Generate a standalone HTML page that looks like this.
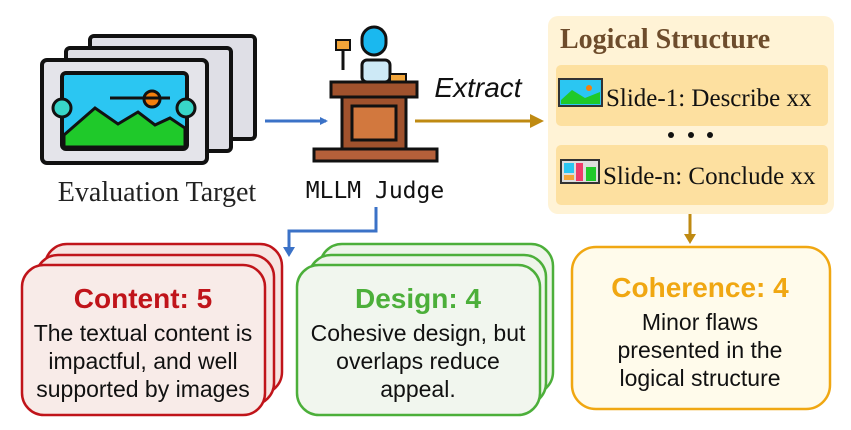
<!DOCTYPE html>
<html><head><style>
body{margin:0;background:#fff;}
svg{display:block;}
.sans{font-family:"Liberation Sans",sans-serif;}
.serif{font-family:"Liberation Serif",serif;}
</style></head><body>
<svg width="851" height="430" viewBox="0 0 851 430" xmlns="http://www.w3.org/2000/svg">
<defs>
<marker id="ab" markerWidth="8" markerHeight="8" refX="6" refY="4" orient="auto" markerUnits="userSpaceOnUse"><path d="M0,0 L8,4 L0,8 Z" fill="#3b72c7"/></marker>
</defs>
<rect x="90" y="36" width="165" height="103" rx="4" fill="#dfdfe6" stroke="#111" stroke-width="4"/>
<rect x="66" y="48" width="165" height="103" rx="4" fill="#dfdfe6" stroke="#111" stroke-width="4"/>
<rect x="42" y="60" width="165" height="103" rx="5" fill="#e4e4ea" stroke="#111" stroke-width="4"/>
<rect x="62" y="73" width="125" height="76" rx="4" fill="#2bc6f2" stroke="#111" stroke-width="4"/>
<path d="M64,135 L95,108 L118,124 L138,112 L155,125 L170,118 L185,128 L185,147 L64,147 Z" fill="#1fc92a" stroke="#111" stroke-width="3"/>
<circle cx="152" cy="99" r="8" fill="#f57f0c" stroke="#111" stroke-width="3"/>
<line x1="110" y1="98" x2="170" y2="98" stroke="#111" stroke-width="3"/>
<circle cx="62" cy="108" r="9" fill="#38d6c8" stroke="#111" stroke-width="3"/>
<circle cx="186" cy="108" r="9" fill="#38d6c8" stroke="#111" stroke-width="3"/>
<text x="157" y="201" text-anchor="middle" class="serif" font-size="28" fill="#222">Evaluation Target</text>
<line x1="265" y1="121" x2="326" y2="121" stroke="#3b72c7" stroke-width="3" marker-end="url(#ab)"/>
<rect x="362" y="27" width="24" height="28" rx="12" fill="#1ab8ef" stroke="#111" stroke-width="3"/>
<rect x="362" y="60" width="28" height="22" rx="5" fill="#cde9f6" stroke="#111" stroke-width="3"/>
<rect x="336" y="40" width="14" height="10" fill="#f2a53a" stroke="#111" stroke-width="2"/>
<line x1="343" y1="50" x2="343" y2="70" stroke="#111" stroke-width="3"/>
<rect x="390" y="74" width="16" height="8" fill="#f2a53a" stroke="#111" stroke-width="2"/>
<rect x="331" y="82" width="86" height="15" fill="#a0522d" stroke="#111" stroke-width="3"/>
<rect x="342" y="97" width="64" height="52" fill="#a0522d" stroke="#111" stroke-width="3"/>
<rect x="352" y="106" width="44" height="34" fill="#d2783e" stroke="#111" stroke-width="3"/>
<rect x="314" y="149" width="123" height="12" fill="#b5603a" stroke="#111" stroke-width="3"/>
<text x="375" y="198" text-anchor="middle" font-family="'DejaVu Sans Mono','Liberation Mono',monospace" font-size="23" fill="#111">MLLM Judge</text>
<text x="478" y="97" text-anchor="middle" class="sans" font-style="italic" font-size="28" fill="#111">Extract</text>
<line x1="415" y1="121" x2="533" y2="121" stroke="#bf8a12" stroke-width="3"/>
<path d="M530,114 L544,121 L530,128 Z" fill="#bf8a12"/>
<rect x="548" y="16" width="286" height="198" rx="10" fill="#fff3d6"/>
<text x="560" y="48" class="serif" font-weight="bold" font-size="28" fill="#6d4c2c">Logical Structure</text>
<rect x="556" y="65" width="272" height="61" rx="5" fill="#fde0a0"/>
<rect x="556" y="145" width="272" height="60" rx="5" fill="#fde0a0"/>
<rect x="559" y="79" width="43" height="27" fill="#2bc6f2" stroke="#333" stroke-width="2"/>
<path d="M561,100 L572,90 L585,98 L600,92 L600,104 L561,104Z" fill="#1fc92a"/>
<circle cx="589" cy="88" r="3" fill="#f57f0c"/>
<text x="606" y="106" class="serif" font-size="25" fill="#111">Slide-1: Describe xx</text>
<circle cx="671" cy="135" r="3" fill="#111"/><circle cx="691" cy="135" r="3" fill="#111"/><circle cx="710" cy="135" r="3" fill="#111"/>
<rect x="561" y="160" width="38" height="23" fill="#ddd" stroke="#333" stroke-width="2"/>
<rect x="564" y="163" width="10" height="10" fill="#2bc6f2"/><rect x="576" y="163" width="7" height="18" fill="#ef3b6a"/><rect x="586" y="167" width="10" height="14" fill="#1fc92a"/><rect x="564" y="175" width="10" height="5" fill="#f2a53a"/>
<text x="603" y="184" class="serif" font-size="25" fill="#111">Slide-n: Conclude xx</text>
<path d="M376,207 L376,231 L289,231 L289,250" fill="none" stroke="#3b72c7" stroke-width="3"/>
<path d="M283,247 L289,257 L295,247 Z" fill="#3b72c7"/>
<line x1="690" y1="214" x2="690" y2="236" stroke="#bf8a12" stroke-width="3"/>
<path d="M684,234 L690,244 L696,234 Z" fill="#bf8a12"/>
<rect x="45" y="244" width="237" height="150" rx="22" fill="#f7e4e1" stroke="#c0141a" stroke-width="2.5"/>
<rect x="36" y="255" width="238" height="150" rx="22" fill="#f7e4e1" stroke="#c0141a" stroke-width="2.5"/>
<rect x="22" y="265" width="243" height="150" rx="22" fill="#f8ebe8" stroke="#c0141a" stroke-width="2.5"/>
<text x="143" y="308" text-anchor="middle" class="sans" font-weight="bold" font-size="28" fill="#c0141a">Content: 5</text>
<text class="sans" font-size="23" fill="#111" text-anchor="middle"><tspan x="143" y="341">The textual content is</tspan><tspan x="143" y="369">impactful, and well</tspan><tspan x="143" y="397">supported by images</tspan></text>
<rect x="320" y="244" width="233" height="150" rx="22" fill="#eef5ea" stroke="#4caf3a" stroke-width="2.5"/>
<rect x="309" y="255" width="237" height="150" rx="22" fill="#eef5ea" stroke="#4caf3a" stroke-width="2.5"/>
<rect x="297" y="265" width="243" height="150" rx="22" fill="#f1f6ee" stroke="#4caf3a" stroke-width="2.5"/>
<text x="418" y="308" text-anchor="middle" class="sans" font-weight="bold" font-size="28" fill="#4caf3a">Design: 4</text>
<text class="sans" font-size="23" fill="#111" text-anchor="middle"><tspan x="418" y="341">Cohesive design, but</tspan><tspan x="418" y="369">overlaps reduce</tspan><tspan x="418" y="397">appeal.</tspan></text>
<rect x="572" y="247" width="258" height="162" rx="24" fill="#fffbeb" stroke="#f0a712" stroke-width="2.5"/>
<text x="700" y="297" text-anchor="middle" class="sans" font-weight="bold" font-size="28" fill="#f0a712">Coherence: 4</text>
<text class="sans" font-size="23" fill="#111" text-anchor="middle"><tspan x="700" y="330">Minor flaws</tspan><tspan x="700" y="358">presented in the</tspan><tspan x="700" y="386">logical structure</tspan></text>
</svg>
</body></html>
